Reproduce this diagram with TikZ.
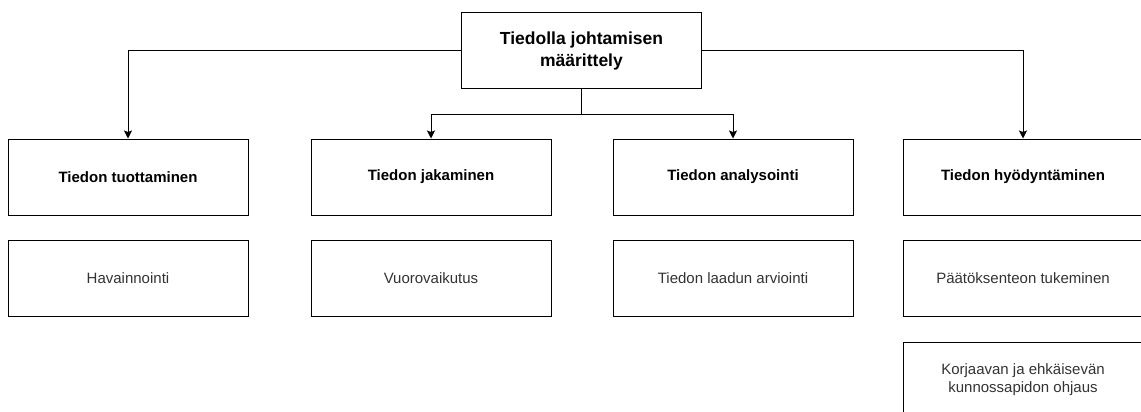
\documentclass[tikz,border=0pt]{standalone}
\usepackage{fontspec}
\setmainfont{Liberation Sans}
\usetikzlibrary{arrows.meta,calc,positioning}

\begin{document}
\begin{tikzpicture}[x=1pt,y=-1pt,line width=1pt]
    \tikzset{BoxStyle/.style= {draw,
        fill = white,
        minimum width = 240pt,
        minimum height = 76pt,
        inner sep = 0pt,
        align = center,
        font = \fontsize{15pt}{18pt}\selectfont},
      HeadStyle/.style = {BoxStyle, font = \bfseries\fontsize{15pt}{18pt}\selectfont},
      TopStyle/.style = {BoxStyle, font = \bfseries\fontsize{17.5pt}{22pt}\selectfont},
      EdgeStyle/.style = {-{Stealth[length=8pt,width=8pt,inset=1.5pt]}}}
    \useasboundingbox (0,0) rectangle (1141,412);

    \node[TopStyle] (A0) at (581.5,51) {Tiedolla johtamisen\\määrittely};

    \node[HeadStyle] (A1) at (128,177) {Tiedon tuottaminen};
    \node[HeadStyle] (A2) at (431,177) {Tiedon jakaminen};
    \node[HeadStyle] (A3) at (733,177) {Tiedon analysointi};
    \node[HeadStyle] (A4) at (1023,177) {Tiedon hyödyntäminen};

    \node[BoxStyle,text=black!80] (B1) at (128,278) {Havainnointi};
    \node[BoxStyle,text=black!80] (B2) at (431,278) {Vuorovaikutus};
    \node[BoxStyle,text=black!80] (B3) at (733,278) {Tiedon laadun arviointi};
    \node[BoxStyle,text=black!80] (B4) at (1023,278) {Päätöksenteon tukeminen};
    \node[BoxStyle,text=black!80] (C4) at (1023,380) {Korjaavan ja ehkäisevän\\kunnossapidon ohjaus};

    \coordinate (S0) at ($(A0.south)+(0,25)$);
    \draw[EdgeStyle] (A0.west) -| (A1.north);
    \draw[EdgeStyle] (A0.east) -| (A4.north);
    \draw (A0.south) -- (S0);
    \draw[EdgeStyle] (S0) -| (A2.north);
    \draw[EdgeStyle] (S0) -| (A3.north);
\end{tikzpicture}
\end{document}
